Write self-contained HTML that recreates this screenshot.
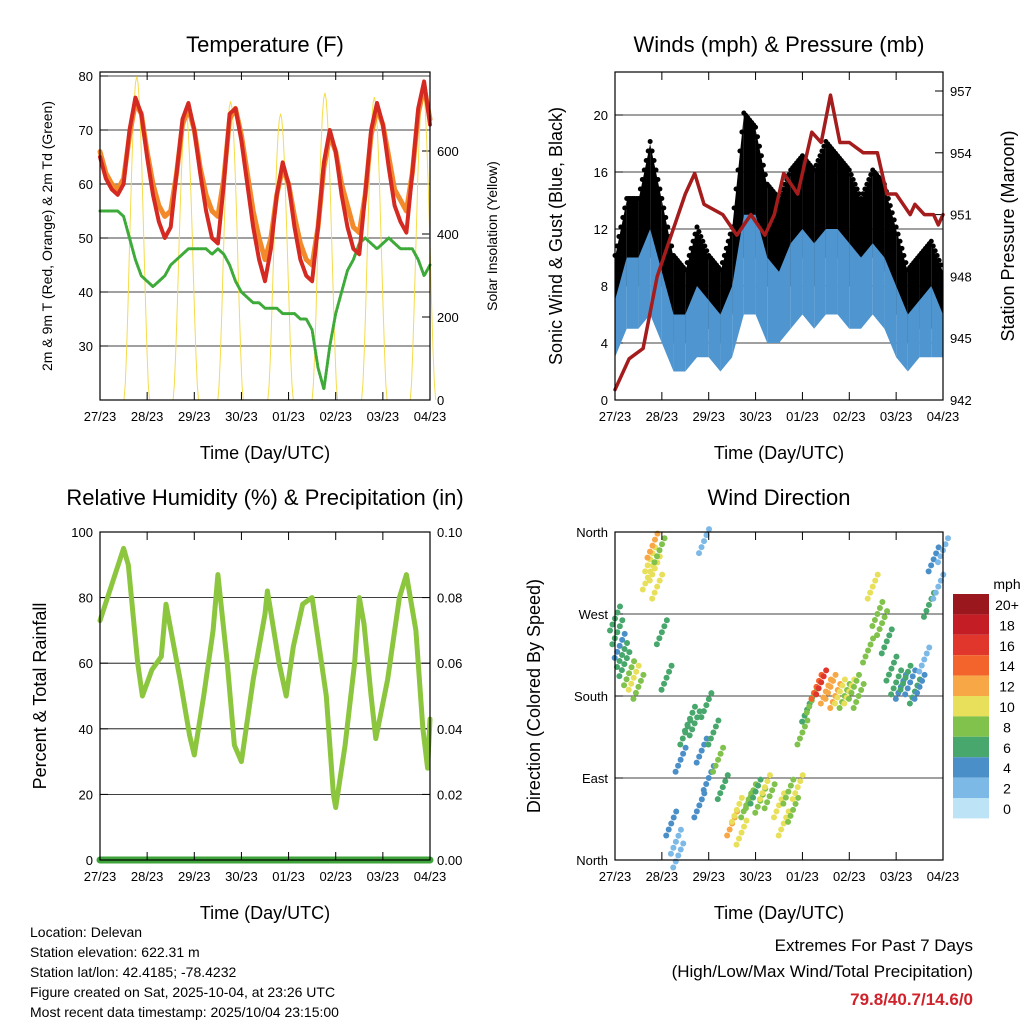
<!DOCTYPE html>
<html><head><meta charset="utf-8"><style>
html,body{margin:0;padding:0;background:#fff;}
svg{display:block;font-family:"Liberation Sans",sans-serif;}
</style></head><body>
<svg id="c" width="1024" height="1024" viewBox="0 0 1024 1024"></svg>
<script>
// ---- data (3-hour steps, t in days from 27/23) ----
const dayLabels=["27/23","28/23","29/23","30/23","01/23","02/23","03/23","04/23"];
const temp2m=[65,61,59,58,60,70,76,73,65,58,53,50,52,62,72,75,70,62,55,50,49,60,73,74,68,60,52,46,42,48,58,64,60,52,46,43,42,52,64,70,66,58,52,48,47,58,70,75,71,63,56,53,51,62,74,79,71];
const temp9m=[66,62,60,59,61,69,75,73,66,60,56,54,55,62,71,74,70,63,58,55,54,61,72,74,69,62,55,50,46,50,58,63,60,54,49,46,45,52,63,69,66,60,56,52,51,58,69,74,71,65,59,57,55,62,73,78,72];
const dewpt=[55,55,55,55,54,50,46,43,42,41,42,43,45,46,47,48,48,48,48,47,48,47,45,42,40,39,38,38,37,37,37,36,36,36,35,35,33,26,22,30,36,40,44,46,49,50,49,48,49,50,49,48,48,48,46,43,45];
const solarPeakT=[0.78,1.82,2.77,3.83,4.77,5.82,6.85];
const solarPeakV=[780,700,720,690,740,730,750];
const windT=[0,0.25,0.5,0.75,1,1.25,1.5,1.75,2,2.25,2.5,2.75,3,3.25,3.5,3.75,4,4.25,4.5,4.75,5,5.25,5.5,5.75,6,6.25,6.5,6.75,7];
const gustLo=[5,8,8,10,8,4,4,6,5,4,6,10,10,8,7,8,10,8,10,10,8,8,10,9,6,4,5,5,5];
const gustHi=[10,14,14,18,14,10,9,12,10,9,12,20,19,15,14,16,17,16,18,17,16,14,16,15,12,9,10,11,9];
const windLo=[3,5,5,6,4,2,2,3,3,2,3,6,6,4,4,5,6,5,6,6,5,5,6,5,3,2,3,3,3];
const windHi=[7,10,10,12,9,6,6,8,7,6,8,13,13,10,9,11,12,11,12,12,11,10,11,10,8,6,7,8,6];
const presT=[0,0.3,0.6,0.9,1.2,1.5,1.7,1.9,2.3,2.6,2.9,3.2,3.4,3.6,3.9,4.2,4.4,4.6,4.8,5.0,5.3,5.6,5.8,6.0,6.3,6.4,6.6,6.8,6.9,7];
const presV=[942.5,944,944.5,948,950,952,953,951.5,951,950,951,950,951,953,952,955,954.5,956.8,954.5,954.5,954,954,952,952,951,951.5,951,951,950.5,951];
const rhT=[0,0.5,0.6,0.8,0.9,1.1,1.3,1.4,1.7,1.9,2.0,2.2,2.4,2.5,2.7,2.85,3.0,3.25,3.5,3.55,3.8,3.95,4.1,4.3,4.5,4.8,4.95,5.0,5.2,5.4,5.5,5.6,5.75,5.85,6.1,6.35,6.5,6.7,6.85,6.95,7];
const rhV=[73,95,90,60,50,58,62,78,55,38,32,50,70,87,60,35,30,55,75,82,60,50,65,78,80,50,20,16,35,60,80,72,50,37,55,80,87,70,40,28,43];
const dirT=[0,0.05,0.1,0.15,0.2,0.3,0.4,0.5,0.7,0.75,0.8,0.85,0.9,0.95,1.0,1.1,1.2,1.3,1.35,1.4,1.5,1.6,1.7,1.8,1.85,1.9,1.95,2.0,2.1,2.2,2.3,2.5,2.6,2.7,2.8,2.9,3.0,3.1,3.2,3.3,3.5,3.6,3.7,3.8,3.9,4.0,4.1,4.2,4.3,4.4,4.5,4.6,4.7,4.8,4.9,5.0,5.1,5.2,5.4,5.5,5.6,5.7,5.8,5.9,6.0,6.1,6.2,6.3,6.4,6.5,6.6,6.7,6.8,6.9,7.0];
const dirV=[265,250,235,225,215,205,200,190,310,330,345,320,300,340,250,200,40,20,5,110,140,155,150,60,120,350,170,90,140,110,80,40,55,30,60,70,75,65,80,70,60,40,75,55,80,140,165,175,190,195,185,190,180,185,180,185,190,180,230,300,270,260,240,210,195,190,200,195,185,190,220,280,330,300,340];
const dirS=[6,6,5,6,7,9,10,9,11,10,12,10,11,9,6,6,4,3,3,5,6,7,7,4,5,3,6,5,7,8,6,12,11,10,9,8,7,8,10,8,11,10,9,8,10,8,7,9,14,16,13,12,12,10,9,10,8,9,8,10,8,9,7,6,6,5,6,4,7,5,3,6,4,3,3];
const precipV=[0,0,0,0,0,0,0,0];
const legLabels=["20+","18","16","14","12","10","8","6","4","2","0"];
const legColors=["#9a181d","#c41d26","#e0362b","#f2642b","#f7a745","#e8e05a","#80c24c","#48a76c","#4a8fc7","#7db9e6","#bde3f7"];

const svg=document.getElementById('c');
const NS='http://www.w3.org/2000/svg';
function mk(tag,at,parent,txt){const e=document.createElementNS(NS,tag);for(const k in at)e.setAttribute(k,at[k]);if(txt!==undefined)e.textContent=txt;(parent||svg).appendChild(e);return e;}
function text(x,y,s,size,anchor,parent,name,extra){const e=mk('text',Object.assign({x:x,y:y,'font-size':size,'text-anchor':anchor||'middle',fill:'#000'},extra||{}),parent,s);

return e;}

function panel(name,x0,x1,y0,y1){
 const g=mk('g',{},svg);
 
 
 return {g,x0,x1,y0,y1,xs:t=>x0+(x1-x0)*t/7};
}
function frame(p){const r=mk('rect',{x:p.x0,y:p.y0,width:p.x1-p.x0,height:p.y1-p.y0,fill:'none',stroke:'#000','stroke-width':1.2},p.g);
 
 }
function xaxis(p){
 const g=mk('g',{},p.g);
 
 
 dayLabels.forEach((l,i)=>{const x=p.xs(i);mk('line',{x1:x,x2:x,y1:p.y1,y2:p.y1-8,stroke:'#000'},g);mk('line',{x1:x,x2:x,y1:p.y0,y2:p.y0+8,stroke:'#000'},g);
  text(x,p.y1+21,l,13,'middle',g,'x-tick-label');});
 text((p.x0+p.x1)/2,p.y1+59,'Time (Day/UTC)',18,'middle',g,'x-axis-title');
}
function yticks(p,vals,ys,labels,side,grid){
 const g=mk('g',{},p.g);
 
 
 vals.forEach((v,i)=>{const y=ys(v);
  if(grid) mk('line',{x1:p.x0,x2:p.x1,y1:y,y2:y,stroke:'#000','stroke-width':0.8},g);
  if(side==='left'){mk('line',{x1:p.x0,x2:p.x0+8,y1:y,y2:y,stroke:'#000'},g);text(p.x0-7,y+5,labels[i],13,'end',g,'y-tick-label');}
  else{mk('line',{x1:p.x1,x2:p.x1-8,y1:y,y2:y,stroke:'#000'},g);text(p.x1+7,y+5,labels[i],13,'start',g,'y-tick-label');}
 });
}
function ytitle(x,y,s,size,name){const e=text(x,y,s,size,'middle',svg,name,{transform:`rotate(-90 ${x} ${y})`});}
function poly(p,ts,vs,xs,ys,color,w,name){const d=ts.map((t,i)=>(i?'L':'M')+xs(t).toFixed(1)+' '+ys(vs[i]).toFixed(1)).join(' ');
 const e=mk('path',{d,fill:'none',stroke:color,'stroke-width':w,'stroke-linejoin':'round','stroke-linecap':'round'},p.g);
 
 return e;}

// ---------- Temperature ----------
const P1=panel('temperature-panel',100,430,72,400);
const tY=v=>400-(v-20)*5.4, sY=v=>400-v*0.415;
text(265,52,'Temperature (F)',22,'middle',svg,'temperature-title');
yticks(P1,[30,40,50,60,70,80],tY,['30','40','50','60','70','80'],'left',true);
yticks(P1,[0,200,400,600],sY,['0','200','400','600'],'right',false);
{const g=mk('g',{},P1.g);
 solarPeakT.forEach((pt,i)=>{let d='';for(let k=0;k<=20;k++){const f=k/20;const t=pt-0.27+0.54*f;const v=solarPeakV[i]*Math.pow(Math.sin(Math.PI*f),1.6);d+=(k?'L':'M')+P1.xs(t).toFixed(1)+' '+sY(v).toFixed(1);}
  mk('path',{d,fill:'none',stroke:'#f4dc4a','stroke-width':1},g);});}
const T3=temp2m.map((_,i)=>i*0.125);
poly(P1,T3,dewpt,P1.xs,tY,'#3daa3a',3,'dewpoint-series').setAttribute('stroke-dasharray','2 1.5');
poly(P1,T3,temp9m,P1.xs,tY,'#f28a2c',5,'temp-9m-series');
poly(P1,T3,temp2m,P1.xs,tY,'#d42a22',4,'temp-2m-series');
frame(P1);xaxis(P1);
ytitle(52,236,'2m & 9m T (Red, Orange) & 2m Td (Green)',14,'temperature-left-axis-title');
ytitle(497,236,'Solar Insolation (Yellow)',14,'solar-right-axis-title');

// ---------- Winds ----------
const P2=panel('winds-panel',615,943,72,400);
const wY=v=>400-v*14.25, pY=v=>400-(v-942)*20.6;
text(779,52,'Winds (mph) & Pressure (mb)',22,'middle',svg,'winds-title');
yticks(P2,[0,4,8,12,16,20],wY,['0','4','8','12','16','20'],'left',true);
yticks(P2,[942,945,948,951,954,957],pY,['942','945','948','951','954','957'],'right',false);
{const g=mk('g',{},P2.g);
 for(let i=0;i<windT.length-1;i++){const x0=P2.xs(windT[i]),x1=P2.xs(windT[i+1]);
  mk('path',{d:`M${x0} ${wY(gustHi[i])} L${x1} ${wY(gustHi[i+1])} L${x1} ${wY(gustLo[i+1])} L${x0} ${wY(gustLo[i])}Z`,fill:'#000'},g);
  for(let k=0;k<6;k++){const f=k/6;const x=x0+(x1-x0)*f;const hi=gustHi[i]+(gustHi[i+1]-gustHi[i])*f;mk('circle',{cx:x,cy:wY(hi)-2,r:2.5,fill:'#000'},g);}}}
{const g=mk('g',{},P2.g);
 for(let i=0;i<windT.length-1;i++){const x0=P2.xs(windT[i]),x1=P2.xs(windT[i+1]);
  mk('path',{d:`M${x0} ${wY(windHi[i])} L${x1} ${wY(windHi[i+1])} L${x1} ${wY(windLo[i+1])} L${x0} ${wY(windLo[i])}Z`,fill:'#4f95d0'},g);}}
poly(P2,presT,presV,P2.xs,pY,'#a41c1c',3.5,'pressure-series');
frame(P2);xaxis(P2);
ytitle(562,236,'Sonic Wind & Gust (Blue, Black)',18,'wind-left-axis-title');
ytitle(1014,236,'Station Pressure (Maroon)',18,'pressure-right-axis-title');

// ---------- RH ----------
const P3=panel('humidity-panel',100,430,532,860);
const rY=v=>860-v*3.28, qY=v=>860-v*3280;
text(265,505,'Relative Humidity (%) & Precipitation (in)',22,'middle',svg,'humidity-title');
yticks(P3,[0,20,40,60,80,100],rY,['0','20','40','60','80','100'],'left',true);
yticks(P3,[0,0.02,0.04,0.06,0.08,0.1],qY,['0.00','0.02','0.04','0.06','0.08','0.10'],'right',false);
poly(P3,rhT,rhV,P3.xs,rY,'#8cc63f',5,'humidity-series');
poly(P3,precipV.map((_,i)=>i),precipV,P3.xs,qY,'#3ea33a',7,'precipitation-series');
frame(P3);xaxis(P3);
ytitle(46,696,'Percent & Total Rainfall',18,'humidity-left-axis-title');

// ---------- Wind direction ----------
const P4=panel('wind-direction-panel',615,943,532,860);
const dY=v=>860-v*0.9111;
text(779,505,'Wind Direction',22,'middle',svg,'wind-direction-title');
yticks(P4,[0,90,180,270,360],dY,['North','East','South','West','North'],'left',false);
[90,180,270].forEach(v=>{const l=mk('line',{x1:P4.x0,x2:P4.x1,y1:dY(v),y2:dY(v),stroke:'#000','stroke-width':0.8},P4.g);});
function spdColor(s){const idx=Math.min(10,Math.floor(s/2));return legColors[10-idx];}
{const g=mk('g',{},P4.g);
 dirT.forEach((t,i)=>{for(let k=-2;k<=2;k++){mk('circle',{cx:P4.xs(t)+k*2.5,cy:dY(dirV[i])-k*6,r:3,fill:spdColor(dirS[i])},g);}});}
frame(P4);xaxis(P4);
ytitle(540,696,'Direction (Colored By Speed)',18,'direction-left-axis-title');
{const g=mk('g',{},svg);
 text(1007,589,'mph',14,'middle',g,'legend-title');
 legLabels.forEach((l,i)=>{const y=594+i*20.4;mk('rect',{x:953,y:y,width:36,height:20.4,fill:legColors[i]},g);text(1007,y+16,l,14,'middle',g,'legend-label');});}

// ---------- footer ----------
const info=['Location: Delevan','Station elevation: 622.31 m','Station lat/lon: 42.4185; -78.4232','Figure created on Sat, 2025-10-04, at 23:26 UTC','Most recent data timestamp: 2025/10/04 23:15:00'];
info.forEach((s,i)=>text(30,937+i*20,s,14,'start',svg,'station-info-line'));
text(973,951,'Extremes For Past 7 Days',17,'end',svg,'extremes-title');
text(973,977,'(High/Low/Max Wind/Total Precipitation)',17,'end',svg,'extremes-subtitle');
text(973,1005,'79.8/40.7/14.6/0',17,'end',svg,'extremes-values',{fill:'#d0222a','font-weight':'bold'});
</script>
</body></html>
